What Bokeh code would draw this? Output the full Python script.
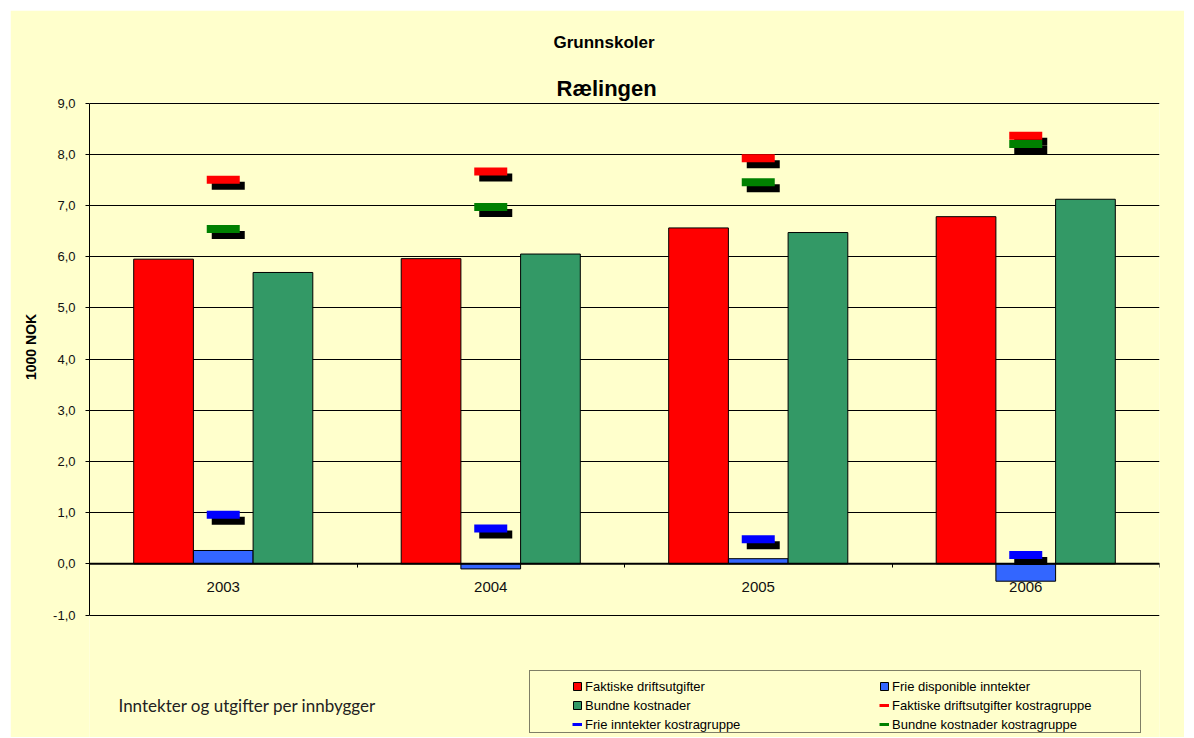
from bokeh.plotting import figure
from bokeh.models import (Range1d, LinearAxis, FixedTicker, CustomJSTickFormatter, Span,
                          Label, Legend, LegendItem, ColumnDataSource, Title)
from bokeh.transform import dodge
from bokeh.embed import file_html
from bokeh.resources import INLINE

# ---------------- data ----------------
years = [2003, 2004, 2005, 2006]
year_labels = ["2003", "2004", "2005", "2006"]
faktiske = [5.95, 5.96, 6.56, 6.78]          # Faktiske driftsutgifter
frie = [0.26, -0.10, 0.10, -0.34]            # Frie disponible inntekter
bundne = [5.69, 6.05, 6.47, 7.12]            # Bundne kostnader
faktiske_kostra = [7.50, 7.66, 7.92, 8.36]   # Faktiske driftsutgifter kostragruppe
frie_kostra = [0.96, 0.69, 0.48, 0.17]       # Frie inntekter kostragruppe
bundne_kostra = [6.54, 6.97, 7.45, 8.20]     # Bundne kostnader kostragruppe
y_ticks = [-1, 0, 1, 2, 3, 4, 5, 6, 7, 8, 9]

# ---------------- layout ----------------
# canvas placed at page (10, 10); frame extends to the canvas bottom so that the
# legend and the note below the plot area live inside it.
W, H = 1174, 727
BL, BR, BT, BB = 79, 25, 92, 0
PLOT_H = 512                      # pixel height of the -1..9 plot area
FW, FH = W - BL - BR, H - BT - BB
X0, X1 = years[0] - 0.5, years[-1] + 0.5
PX_X = FW / (X1 - X0)
PX_Y = PLOT_H / (y_ticks[-1] - y_ticks[0])
Y1 = y_ticks[-1] + 0.5 / PX_Y
Y0 = Y1 - FH / PX_Y
BAR_W = 59.7 / PX_X
BG = "#FFFFCC"
FONT = "Liberation Sans"
NAN = float("nan")

p = figure(width=W, height=H, x_range=Range1d(X0, X1), y_range=Range1d(Y0, Y1),
           output_backend="svg", toolbar_location=None, x_axis_type=None,
           min_border_left=BL, min_border_right=BR, min_border_top=BT, min_border_bottom=BB,
           background_fill_color=BG, border_fill_color=BG, outline_line_color=None,
           margin=(10, 0, 0, 10))

# frame edges in page px
FB_PAGE = 10 + H - BB
FL_PAGE = 10 + BL
FT_PAGE = 10 + BT

# titles (outer first)
p.title = Title(text="Grunnskoler", align="left", offset=464, standoff=40, text_font=FONT,
                text_font_size="17px", text_font_style="bold", text_color="black")
p.add_layout(Title(text="Rælingen", align="left", offset=467, standoff=4, text_font=FONT,
                   text_font_size="22px", text_font_style="bold", text_color="black"), "above")

# y axis
ya = p.yaxis[0]
ya.ticker = FixedTicker(ticks=y_ticks)
ya.bounds = (y_ticks[0], y_ticks[-1])
ya.formatter = CustomJSTickFormatter(code="return tick.toFixed(1).replace('.', ',');")
ya.major_tick_out = 4
ya.major_tick_in = 0
ya.minor_tick_line_color = None
ya.axis_line_color = "black"
ya.major_tick_line_color = "black"
ya.major_label_text_font = FONT
ya.major_label_text_font_size = "13px"
ya.major_label_text_color = "#111111"
ya.major_label_standoff = 10
p.ygrid.grid_line_color = "black"
p.ygrid.grid_line_width = 1

# y axis title, centred on the -1..9 plot area
YT_FS = 14
YT_LEN = 49  # approx rendered length of the title text
y_center_page = FT_PAGE + PLOT_H / 2 - 3
p.add_layout(Title(text="1000 NOK", align="left", vertical_align="middle",
                   offset=FB_PAGE - (y_center_page + YT_LEN / 2), standoff=21,
                   text_font=FONT, text_font_size=f"{YT_FS}px", text_font_style="bold",
                   text_color="black"), "left")

# x axis at y=0
p.add_layout(Span(location=0, dimension="width", line_color="black", line_width=2))
bounds_axis = LinearAxis(fixed_location=0, ticker=FixedTicker(ticks=[y + 0.5 for y in years]),
                         formatter=CustomJSTickFormatter(code="return '';"),
                         axis_line_color=None, major_tick_out=4, major_tick_in=0,
                         minor_tick_line_color=None, major_tick_line_color="black")
p.add_layout(bounds_axis, "below")
label_axis = LinearAxis(fixed_location=0, ticker=FixedTicker(ticks=years),
                        major_label_overrides={y: s for y, s in zip(years, year_labels)},
                        axis_line_color=None, major_tick_out=0, major_tick_in=0,
                        major_tick_line_color=None, minor_tick_line_color=None,
                        major_label_standoff=18, major_label_text_font=FONT,
                        major_label_text_font_size="15px", major_label_text_color="#111111")
p.add_layout(label_axis, "below")

src = ColumnDataSource(dict(x=years, faktiske=faktiske, frie=frie, bundne=bundne,
                            fk=faktiske_kostra, frk=frie_kostra, bk=bundne_kostra))

r_fak = p.vbar(x=dodge("x", -BAR_W, range=p.x_range), top="faktiske", bottom=0, width=BAR_W,
               source=src, fill_color="#FF0000", line_color="black", line_width=1)
r_frie = p.vbar(x="x", top="frie", bottom=0, width=BAR_W,
                source=src, fill_color="#3366FF", line_color="black", line_width=1)
r_bun = p.vbar(x=dodge("x", BAR_W, range=p.x_range), top="bundne", bottom=0, width=BAR_W,
               source=src, fill_color="#339966", line_color="black", line_width=1)

# kostragruppe markers with drop shadow
MW, MH = 33, 8
SDX, SDY = 5 / PX_X, -6 / PX_Y
for col, color in (("fk", "#FF0000"), ("bk", "#008000"), ("frk", "#0000FF")):
    p.rect(x=dodge("x", SDX, range=p.x_range), y=dodge(col, SDY, range=p.y_range),
           width=MW, height=MH, width_units="screen", height_units="screen",
           source=src, fill_color="black", line_color=None)
    p.rect(x="x", y=col, width=MW, height=MH, width_units="screen", height_units="screen",
           source=src, fill_color=color, line_color=None)

# legend-only renderers (a single NaN point draws nothing in the plot)
l_fk = p.line(x=[NAN], y=[NAN], line_color="#FF0000", line_width=3)
l_frk = p.line(x=[NAN], y=[NAN], line_color="#0000FF", line_width=3)
l_bk = p.line(x=[NAN], y=[NAN], line_color="#008000", line_width=3)
l_box = p.line(x=[NAN], y=[NAN], line_alpha=0)

# legend box
leg_box = Legend(items=[LegendItem(label=" ", renderers=[l_box])],
                 location=(529 - FL_PAGE, FB_PAGE - 733),
                 padding=0, spacing=0, glyph_width=10, glyph_height=61, label_width=600,
                 label_height=61, label_standoff=0, border_line_color="black",
                 border_line_width=1, background_fill_color=BG, background_fill_alpha=1,
                 margin=0)
p.add_layout(leg_box)

common = dict(padding=0, spacing=4, glyph_width=10, glyph_height=10, label_height=15,
              label_standoff=3, border_line_color=None, background_fill_alpha=0, margin=0,
              label_text_font=FONT, label_text_font_size="13px", label_text_color="black")
leg1 = Legend(items=[LegendItem(label="Faktiske driftsutgifter", renderers=[r_fak]),
                     LegendItem(label="Bundne kostnader", renderers=[r_bun]),
                     LegendItem(label="Frie inntekter kostragruppe", renderers=[l_frk])],
              location=(572 - FL_PAGE, FB_PAGE - 731.5), **common)
leg2 = Legend(items=[LegendItem(label="Frie disponible inntekter", renderers=[r_frie]),
                     LegendItem(label="Faktiske driftsutgifter kostragruppe", renderers=[l_fk]),
                     LegendItem(label="Bundne kostnader kostragruppe", renderers=[l_bk])],
              location=(879 - FL_PAGE, FB_PAGE - 731.5), **common)
p.add_layout(leg1)
p.add_layout(leg2)

p.add_layout(Label(x=118 - FL_PAGE, y=FB_PAGE - 705, x_units="screen", y_units="screen",
                   text="Inntekter og utgifter per innbygger",
                   text_align="left", text_baseline="middle", text_font="Lato",
                   text_font_size="17px", text_color="#222222"))

open("out.html", "w").write(file_html(p, INLINE))
